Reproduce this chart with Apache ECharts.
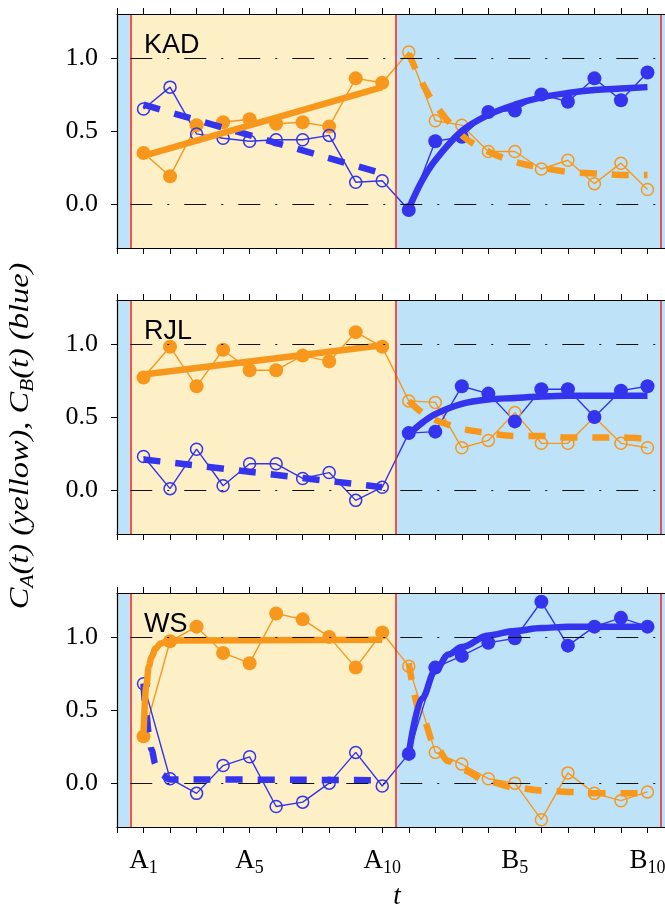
<!DOCTYPE html>
<html>
<head>
<meta charset="utf-8">
<script src="https://cdn.jsdelivr.net/npm/echarts@6/dist/echarts.min.js"></script>
<style>
  html, body { margin: 0; padding: 0; background: #fff; }
  #main { width: 665px; height: 910px; }
</style>
</head>
<body>
<div id="main"></div>
<script>
// x index: A1..A10 = 0..9, B1..B10 = 10..19
var tickLabelIdx = [0, 4, 9, 14, 19];

// KAD
var kadCA = [0.35, 0.19, 0.54, 0.56, 0.58, 0.55, 0.56, 0.53, 0.86, 0.83,
             1.04, 0.57, 0.54, 0.36, 0.36, 0.24, 0.30, 0.14, 0.28, 0.10];
var kadCB = [0.65, 0.80, 0.48, 0.45, 0.43, 0.44, 0.44, 0.47, 0.15, 0.16,
             -0.04, 0.43, 0.46, 0.63, 0.64, 0.75, 0.70, 0.86, 0.71, 0.90];
var kadFitAX = [0, 9];
var kadFitACA = [0.33, 0.80];
var kadFitACB = [0.68, 0.21];
var kadFitBX = [10, 10.5, 11, 12, 13, 14, 15, 16, 17, 18, 19];
var kadFitBCB = [-0.03, 0.16, 0.30, 0.50, 0.61, 0.68, 0.73, 0.76, 0.78, 0.79, 0.80];
var kadFitBCA = [1.03, 0.83, 0.68, 0.47, 0.36, 0.29, 0.25, 0.22, 0.21, 0.20, 0.20];

// RJL
var rjlCA = [0.77, 0.98, 0.71, 0.96, 0.82, 0.82, 0.92, 0.88, 1.08, 0.98,
             0.61, 0.60, 0.29, 0.34, 0.53, 0.32, 0.32, 0.50, 0.32, 0.29];
var rjlCB = [0.23, 0.01, 0.28, 0.03, 0.18, 0.18, 0.08, 0.12, -0.07, 0.02,
             0.39, 0.40, 0.71, 0.66, 0.47, 0.69, 0.69, 0.50, 0.68, 0.71];
var rjlFitAX = [0, 9];
var rjlFitACA = [0.79, 0.99];
var rjlFitACB = [0.21, 0.02];
var rjlFitBX = [10, 10.5, 11, 12, 13, 14, 15, 16, 17, 18, 19];
var rjlFitBCB = [0.38, 0.46, 0.52, 0.59, 0.62, 0.63, 0.64, 0.645, 0.645, 0.645, 0.645];
var rjlFitBCA = [0.61, 0.53, 0.48, 0.42, 0.39, 0.37, 0.37, 0.36, 0.36, 0.36, 0.35];

// WS
var wsCA = [0.32, 0.97, 1.07, 0.89, 0.82, 1.16, 1.12, 1.00, 0.79, 1.03,
            0.80, 0.21, 0.13, 0.03, 0.00, -0.25, 0.07, -0.07, -0.12, -0.06];
var wsCB = [0.68, 0.03, -0.07, 0.12, 0.18, -0.16, -0.13, 0.00, 0.21, -0.02,
            0.20, 0.79, 0.87, 0.96, 0.99, 1.24, 0.94, 1.07, 1.13, 1.07];
var wsFitAX = [0, 0.1, 0.2, 0.3, 0.45, 0.65, 1, 9];
var wsFitACA = [0.33, 0.66, 0.80, 0.86, 0.92, 0.955, 0.975, 0.98];
var wsFitACB = [0.68, 0.48, 0.34, 0.23, 0.13, 0.06, 0.025, 0.02];
var wsFitBX = [10, 10.5, 11, 11.5, 12, 13, 14, 15, 16, 17, 18, 19];
var wsFitBCB = [0.20, 0.58, 0.77, 0.88, 0.93, 1.01, 1.04, 1.06, 1.07, 1.07, 1.07, 1.07];
var wsFitBCA = [0.82, 0.45, 0.25, 0.15, 0.09, 0.01, -0.03, -0.05, -0.06, -0.07, -0.07, -0.07];

var panels = [
  { name: "KAD", ca: kadCA, cb: kadCB, ax: kadFitAX, aca: kadFitACA, acb: kadFitACB, bx: kadFitBX, bca: kadFitBCA, bcb: kadFitBCB, mono: null },
  { name: "RJL", ca: rjlCA, cb: rjlCB, ax: rjlFitAX, aca: rjlFitACA, acb: rjlFitACB, bx: rjlFitBX, bca: rjlFitBCA, bcb: rjlFitBCB, mono: null },
  { name: "WS", ca: wsCA, cb: wsCB, ax: wsFitAX, aca: wsFitACA, acb: wsFitACB, bx: wsFitBX, bca: wsFitBCA, bcb: wsFitBCB, mono: "x" }
];

var orange = "#f7981d";
var blue = "#3434ee";
var bgBlue = "#bee3f9";
var bgYellow = "#fdf0c6";
var red = "#ee2020";
var serif = "Liberation Serif";

var gridTops = [14, 300, 593];
var gridH = 234;

var chart = echarts.init(document.getElementById("main"));

function pairs(xs, ys) {
  return xs.map(function (x, i) { return [x, ys[i]]; });
}

function xLabel(v) {
  var i = Math.round(v);
  return i < 10 ? "{m|A}{s|" + (i + 1) + "}" : "{m|B}{s|" + (i - 9) + "}";
}

var grids = [], xAxes = [], yAxes = [], series = [], graphics = [];

panels.forEach(function (p, k) {
  grids.push({ left: 117, top: gridTops[k], width: 557, height: gridH, outerBoundsMode: "none" });
  var isLast = k === panels.length - 1;
  // bottom axis
  xAxes.push({
    type: "value", gridIndex: k, position: "bottom", min: -1, max: 20, interval: 1, z: 5,
    axisLine: { show: true, onZero: false, lineStyle: { color: "#000", width: 1.2 } },
    axisTick: { show: true, inside: false, length: 6, lineStyle: { color: "#000", width: 1 } },
    splitLine: { show: false },
    axisLabel: {
      show: isLast, customValues: tickLabelIdx, margin: 20, formatter: xLabel,
      rich: {
        m: { fontFamily: serif, fontSize: 27, color: "#000", lineHeight: 30, verticalAlign: "top", padding: [0, 0, 8, 0] },
        s: { fontFamily: serif, fontSize: 18, color: "#000", lineHeight: 18, verticalAlign: "bottom" }
      }
    }
  });
  // top axis (border + ticks)
  xAxes.push({
    type: "value", gridIndex: k, position: "top", min: -1, max: 20, interval: 1, z: 5,
    axisLine: { show: true, onZero: false, lineStyle: { color: "#000", width: 1.2 } },
    axisTick: { show: true, inside: false, length: 6, lineStyle: { color: "#000", width: 1 } },
    splitLine: { show: false },
    axisLabel: { show: false }
  });
  yAxes.push({
    type: "value", gridIndex: k, min: -0.3, max: 1.3, z: 5,
    axisLine: { show: true, onZero: false, lineStyle: { color: "#000", width: 1.2 } },
    axisTick: { show: true, inside: false, length: 6, customValues: [0, 0.5, 1], lineStyle: { color: "#000", width: 1 } },
    splitLine: { show: false },
    axisLabel: {
      customValues: [0, 0.5, 1], margin: 19, fontFamily: serif, fontSize: 26, color: "#000",
      formatter: function (v) { return v.toFixed(1); }
    }
  });
  var xi = 2 * k, yi = k;

  // background bands + red boundaries
  series.push({
    type: "line", xAxisIndex: xi, yAxisIndex: yi, data: [], z: 0, silent: true,
    markArea: {
      silent: true,
      data: [
        [{ xAxis: -1, itemStyle: { color: bgBlue } }, { xAxis: -0.5 }],
        [{ xAxis: -0.5, itemStyle: { color: bgYellow } }, { xAxis: 9.5 }],
        [{ xAxis: 9.5, itemStyle: { color: bgBlue } }, { xAxis: 20 }]
      ]
    }
  });
  series.push({
    type: "line", xAxisIndex: xi, yAxisIndex: yi, data: [], z: 1, silent: true,
    markLine: {
      silent: true, symbol: "none", label: { show: false },
      lineStyle: { color: red, width: 1.5, type: "solid" },
      data: [
        { xAxis: -0.5 }, { xAxis: 9.5 }, { xAxis: 19.5 },
        [{ coord: [-0.5, 0], lineStyle: { color: "#111", width: 1.2, type: [22, 15, 2, 15] } }, { coord: [19.5, 0] }],
        [{ coord: [-0.5, 1], lineStyle: { color: "#111", width: 1.2, type: [22, 15, 2, 15] } }, { coord: [19.5, 1] }]
      ]
    }
  });

  // measured data: filled markers in own half, open markers in the other
  [[p.ca, orange, true], [p.cb, blue, false]].forEach(function (d) {
    var col = d[1];
    series.push({
      type: "line", xAxisIndex: xi, yAxisIndex: yi, z: 2, symbol: "circle",
      lineStyle: { color: col, width: 1.4 },
      itemStyle: { color: col },
      data: d[0].map(function (v, i) {
        var filled = d[2] ? i < 10 : i >= 10;
        return {
          value: [i, v],
          symbolSize: filled ? 14 : 12,
          itemStyle: filled ? { color: col } : { color: "rgba(0,0,0,0)", borderColor: col, borderWidth: 1.5 }
        };
      })
    });
  });

  // fitted curves
  var fits = [
    [p.ax, p.acb, blue, [17, 15]],
    [p.ax, p.aca, orange, "solid"],
    [p.bx, p.bca, orange, [17, 15]],
    [p.bx, p.bcb, blue, "solid"]
  ];
  fits.forEach(function (f) {
    var s = {
      type: "line", xAxisIndex: xi, yAxisIndex: yi, z: 3, symbol: "none",
      smooth: 0.35,
      lineStyle: { color: f[2], width: 6.5, type: f[3], cap: "butt" },
      data: pairs(f[0], f[1])
    };
    if (p.mono) s.smoothMonotone = p.mono;
    series.push(s);
  });

  graphics.push({
    type: "text", left: 144, top: gridTops[k] + 18, z: 10,
    style: { text: p.name, fontFamily: "Liberation Sans", fontSize: 27, fill: "#000" }
  });
});

graphics.push({
  type: "text", x: 22, y: 436, rotation: Math.PI / 2, scaleX: 1.2, z: 10,
  style: {
    text: "{m|C}{s|A}{m|(t) (yellow), C}{s|B}{m|(t) (blue)}",
    align: "center", verticalAlign: "middle",
    rich: {
      m: { fontFamily: serif, fontStyle: "italic", fontSize: 27, fill: "#000", lineHeight: 30, verticalAlign: "top", padding: [0, 0, 8, 0] },
      s: { fontFamily: serif, fontStyle: "italic", fontSize: 18, fill: "#000", lineHeight: 18, verticalAlign: "bottom" }
    }
  }
});
graphics.push({
  type: "text", x: 397, y: 897, z: 10,
  style: { text: "t", fontFamily: serif, fontStyle: "italic", fontSize: 27, fill: "#000", align: "center", verticalAlign: "middle" }
});

var option = {
  animation: false,
  backgroundColor: "#fff",
  grid: grids,
  xAxis: xAxes,
  yAxis: yAxes,
  series: series,
  graphic: graphics
};
chart.setOption(option);
</script>
</body>
</html>
